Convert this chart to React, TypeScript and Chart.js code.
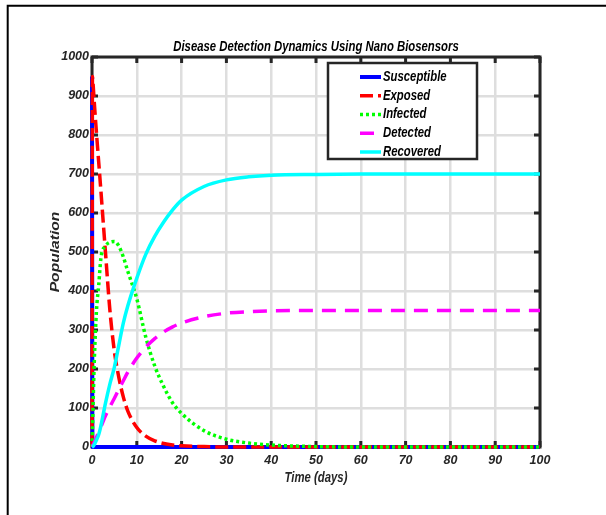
import React, { useEffect, useRef } from "react";
import { Chart, registerables } from "chart.js";

Chart.register(...registerables);

// ---- Data ----
const timeDays = [0, 0.1, 0.25, 0.5, 1, 1.5, 2, 3, 4, 5, 6, 7, 8, 10, 12, 14, 16, 18, 20, 25, 30, 35, 40, 50, 60, 70, 80, 90, 100];
const susceptible = [950, 0, 0, 0, 0, 0, 0, 0, 0, 0, 0, 0, 0, 0, 0, 0, 0, 0, 0, 0, 0, 0, 0, 0, 0, 0, 0, 0, 0];
const exposed = [0, 950, 930, 885, 805, 730, 655, 500, 350, 245, 178, 128, 92, 50, 28, 16, 9, 5, 3, 1, 0, 0, 0, 0, 0, 0, 0, 0, 0];
const infected = [0, 40, 110, 215, 350, 415, 485, 515, 525, 527, 515, 487, 450, 380, 282, 208, 155, 113, 86, 42, 20, 10, 5, 1, 0, 0, 0, 0, 0];
const detected = [0, 2, 6, 12, 25, 38, 52, 80, 103, 125, 148, 170, 192, 228, 256, 278, 295, 308, 318, 334, 343, 347, 349, 350, 350, 350, 350, 350, 350];
const recovered = [0, 0.5, 2, 6, 18, 32, 55, 112, 162, 205, 262, 318, 362, 433, 494, 540, 577, 608, 633, 668, 685, 693, 697, 699, 700, 700, 700, 700, 700];

const seriesNames = ["Susceptible", "Exposed", "Infected", "Detected", "Recovered"];
const seriesColors = ["#0000ff", "#ff0000", "#00ff00", "#ff00ff", "#00ffff"];
const seriesDashes: number[][] = [[], [13, 5], [3, 3], [14, 9], []];
const seriesWidths = [4, 3.5, 3.5, 3.5, 3.5];

const chartTitle = "Disease Detection Dynamics Using Nano Biosensors";
const xTitle = "Time (days)";
const yTitle = "Population";
const xMin = 0, xMax = 100, xStep = 10;
const yMin = 0, yMax = 1000, yStep = 100;

const FAMILY = '"Liberation Sans", Arial, Helvetica, sans-serif';
const AXIS = "#262626";
const GRID = "rgb(222,222,222)";
const NARROW_X = 0.81;

function squeezedText(ctx: CanvasRenderingContext2D, text: string, x: number, y: number, sx: number, align: CanvasTextAlign, rot = 0) {
  ctx.save();
  ctx.translate(x, y);
  if (rot) ctx.rotate(rot);
  ctx.scale(sx, 1);
  ctx.textAlign = align;
  ctx.textBaseline = "middle";
  ctx.fillText(text, 0, 0);
  ctx.restore();
}

const matlabPlugin = {
  id: "matlabLook",
  beforeDraw(chart: any) {
    const { ctx, width, height } = chart;
    ctx.save();
    ctx.fillStyle = "#ffffff";
    ctx.fillRect(0, 0, width, height);
    ctx.strokeStyle = "#000000";
    ctx.lineWidth = 2;
    ctx.beginPath();
    ctx.moveTo(7.7, height);
    ctx.lineTo(7.7, 5.7);
    ctx.lineTo(width, 5.7);
    ctx.stroke();
    ctx.restore();
  },
  beforeDatasetsDraw(chart: any) {
    const { ctx, chartArea: a, scales } = chart;
    ctx.save();
    ctx.strokeStyle = AXIS;
    ctx.lineWidth = 3;
    ctx.beginPath();
    scales.x.ticks.forEach((t: any) => {
      const px = scales.x.getPixelForValue(t.value);
      ctx.moveTo(px, a.bottom);
      ctx.lineTo(px, a.bottom - 6);
      ctx.moveTo(px, a.top);
      ctx.lineTo(px, a.top + 6);
    });
    scales.y.ticks.forEach((t: any) => {
      const py = scales.y.getPixelForValue(t.value);
      ctx.moveTo(a.left, py);
      ctx.lineTo(a.left + 6, py);
      ctx.moveTo(a.right, py);
      ctx.lineTo(a.right - 6, py);
    });
    ctx.stroke();
    ctx.strokeRect(a.left, a.top, a.right - a.left, a.bottom - a.top);

    // titles
    const cx = (a.left + a.right) / 2;
    const cy = (a.top + a.bottom) / 2;
    ctx.fillStyle = "#000000";
    ctx.font = `italic bold 14px ${FAMILY}`;
    squeezedText(ctx, chartTitle, cx, a.top - 10, NARROW_X, "center");
    ctx.fillStyle = AXIS;
    squeezedText(ctx, xTitle, cx, a.bottom + 31, NARROW_X, "center");
    ctx.font = `italic bold 13px ${FAMILY}`;
    squeezedText(ctx, yTitle, a.left - 37, cy, 1.2, "center", -Math.PI / 2);
    ctx.restore();
  },
  afterDatasetsDraw(chart: any) {
    const { ctx, chartArea: a } = chart;
    const left = a.right - 212;
    const top = a.top + 6;
    const w = 149;
    const h = 96;
    ctx.save();
    ctx.fillStyle = "#ffffff";
    ctx.fillRect(left, top, w, h);
    ctx.strokeStyle = AXIS;
    ctx.lineWidth = 2.5;
    ctx.strokeRect(left, top, w, h);
    ctx.font = `italic bold 14px ${FAMILY}`;
    seriesNames.forEach((name, i) => {
      const y = top + 14 + i * 18.75;
      ctx.beginPath();
      ctx.strokeStyle = seriesColors[i];
      ctx.lineWidth = seriesWidths[i];
      ctx.setLineDash(seriesDashes[i]);
      ctx.moveTo(left + 32, y);
      ctx.lineTo(left + 53, y);
      ctx.stroke();
      ctx.setLineDash([]);
      ctx.fillStyle = "#000000";
      squeezedText(ctx, name, left + 55, y, NARROW_X, "left");
    });
    ctx.restore();
  },
};

export default function App() {
  const canvasRef = useRef<HTMLCanvasElement | null>(null);

  useEffect(() => {
    if (!canvasRef.current) return;
    const series = [susceptible, exposed, infected, detected, recovered];
    const datasets = series.map((vals, i) => ({
      label: seriesNames[i],
      data: timeDays.map((t, j) => ({ x: t, y: vals[j] })),
      borderColor: seriesColors[i],
      backgroundColor: seriesColors[i],
      borderWidth: seriesWidths[i],
      borderDash: seriesDashes[i],
      pointRadius: 0,
      cubicInterpolationMode: "monotone" as const,
      fill: false,
      clip: false as any,
      order: 5 - i,
    }));

    const tickFont = { family: FAMILY, size: 12.5, weight: "bold" as const, style: "italic" as const };

    const chart = new Chart(canvasRef.current, {
      type: "line",
      data: { datasets },
      options: {
        animation: false,
        responsive: false,
        maintainAspectRatio: false,
        layout: { padding: { left: 0, right: 66, top: 57, bottom: 18 } },
        plugins: {
          legend: { display: false },
          tooltip: { enabled: false },
          title: { display: false },
        },
        scales: {
          x: {
            type: "linear",
            min: xMin,
            max: xMax,
            ticks: {
              stepSize: xStep,
              color: AXIS,
              padding: 6,
              maxRotation: 0,
              font: tickFont,
              callback: (v: any) => String(v),
            },
            grid: { color: GRID, lineWidth: 2.5, drawTicks: false },
            border: { display: false },
            afterFit: (s: any) => {
              s.height = 50;
            },
          },
          y: {
            type: "linear",
            min: yMin,
            max: yMax,
            ticks: {
              stepSize: yStep,
              color: AXIS,
              padding: 3,
              font: tickFont,
              callback: (v: any) => String(v),
            },
            grid: { color: GRID, lineWidth: 2.5, drawTicks: false },
            border: { display: false },
            afterFit: (s: any) => {
              s.width = 92;
            },
          },
        },
      },
      plugins: [matlabPlugin],
    });
    return () => chart.destroy();
  }, []);

  return (
    <div style={{ position: "absolute", left: 0, top: 0, width: 606, height: 515 }}>
      <canvas ref={canvasRef} width={606} height={515} style={{ display: "block" }} />
    </div>
  );
}
